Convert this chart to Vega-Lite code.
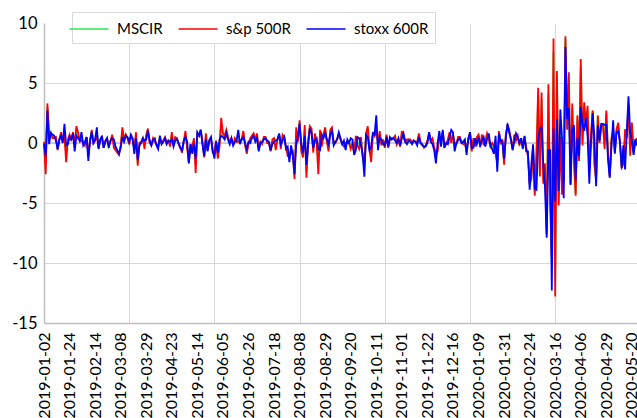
{
"$schema":"https://vega.github.io/schema/vega-lite/v6.json",
"autosize":{"type":"none"},
"padding":{"left":44,"top":23,"right":0,"bottom":95},
"width":593,"height":300,
"background":"white",
"config":{"view":{"stroke":null},"font":"Lato"},
"layer":[
{"data":{"values":[{}]},"mark":{"type":"rule","color":"#c4c4c4","strokeWidth":1.5},"encoding":{"y":{"datum":0}}},
{"data":{"values":[
{"d":"2019-01-02","M":0.0,"S":0.1,"X":-0.1},{"d":"2019-01-03","M":-2.0,"S":-2.6,"X":-1.1},{"d":"2019-01-04","M":3.0,"S":3.3,"X":2.7},{"d":"2019-01-07","M":0.4,"S":0.7,"X":-0.1},{"d":"2019-01-08","M":0.9,"S":0.9,"X":0.8},{"d":"2019-01-09","M":0.5,"S":0.4,"X":0.7},{"d":"2019-01-10","M":0.5,"S":0.4,"X":0.6},{"d":"2019-01-11","M":0.3,"S":0.5,"X":0.2},{"d":"2019-01-14","M":-0.5,"S":-0.6,"X":-0.5},{"d":"2019-01-15","M":0.3,"S":0.2,"X":0.3},{"d":"2019-01-16","M":0.8,"S":0.9,"X":0.6},{"d":"2019-01-17","M":0.1,"S":0.1,"X":0.0},{"d":"2019-01-18","M":1.0,"S":0.6,"X":1.6},{"d":"2019-01-22","M":-1.0,"S":-1.6,"X":-0.2},{"d":"2019-01-23","M":0.1,"S":0.3,"X":-0.1},{"d":"2019-01-24","M":0.6,"S":0.7,"X":0.5},{"d":"2019-01-25","M":0.3,"S":0.2,"X":0.3},{"d":"2019-01-28","M":0.8,"S":0.9,"X":0.8},{"d":"2019-01-29","M":-0.4,"S":-0.2,"X":-0.7},{"d":"2019-01-30","M":1.0,"S":1.4,"X":0.6},{"d":"2019-01-31","M":0.7,"S":0.9,"X":0.4},
{"d":"2019-02-01","M":0.2,"S":0.1,"X":0.2},{"d":"2019-02-04","M":0.5,"S":0.2,"X":0.9},{"d":"2019-02-05","M":0.0,"S":0.1,"X":-0.2},{"d":"2019-02-06","M":-0.1,"S":-0.2,"X":0.1},{"d":"2019-02-07","M":0.5,"S":0.5,"X":0.5},{"d":"2019-02-08","M":-1.1,"S":-0.9,"X":-1.5},{"d":"2019-02-11","M":0.1,"S":0.1,"X":0.2},{"d":"2019-02-12","M":1.0,"S":1.1,"X":0.9},{"d":"2019-02-13","M":0.0,"S":0.0,"X":0.0},{"d":"2019-02-14","M":0.2,"S":0.2,"X":0.3},{"d":"2019-02-15","M":0.9,"S":0.6,"X":1.3},{"d":"2019-02-19","M":-0.4,"S":-0.4,"X":-0.5},{"d":"2019-02-20","M":0.3,"S":0.3,"X":0.2},{"d":"2019-02-21","M":0.5,"S":0.5,"X":0.6},{"d":"2019-02-22","M":-0.4,"S":-0.4,"X":-0.4},{"d":"2019-02-25","M":0.2,"S":0.2,"X":0.1},{"d":"2019-02-26","M":0.4,"S":0.4,"X":0.4},{"d":"2019-02-27","M":-0.3,"S":-0.2,"X":-0.4},{"d":"2019-02-28","M":0.1,"S":0.1,"X":0.2},
{"d":"2019-03-01","M":0.6,"S":0.7,"X":0.4},{"d":"2019-03-04","M":-0.1,"S":-0.4,"X":0.3},{"d":"2019-03-05","M":-0.5,"S":-0.6,"X":-0.3},{"d":"2019-03-06","M":-0.7,"S":-0.8,"X":-0.6},{"d":"2019-03-07","M":-0.9,"S":-1.0,"X":-0.9},{"d":"2019-03-08","M":-0.3,"S":-0.2,"X":-0.4},{"d":"2019-03-11","M":1.0,"S":1.3,"X":0.5},{"d":"2019-03-12","M":0.2,"S":0.3,"X":0.1},{"d":"2019-03-13","M":0.7,"S":0.7,"X":0.6},{"d":"2019-03-14","M":0.4,"S":0.4,"X":0.5},{"d":"2019-03-15","M":0.0,"S":-0.1,"X":0.1},{"d":"2019-03-18","M":0.6,"S":0.6,"X":0.7},{"d":"2019-03-19","M":0.3,"S":0.3,"X":0.4},{"d":"2019-03-20","M":-0.7,"S":-0.5,"X":-0.9},{"d":"2019-03-21","M":0.7,"S":0.9,"X":0.4},{"d":"2019-03-22","M":-1.7,"S":-1.9,"X":-1.4},{"d":"2019-03-25","M":-0.1,"S":0.0,"X":-0.2},{"d":"2019-03-26","M":0.0,"S":0.1,"X":0.0},{"d":"2019-03-27","M":0.4,"S":0.4,"X":0.4},{"d":"2019-03-28","M":-0.2,"S":-0.5,"X":0.2},{"d":"2019-03-29","M":0.5,"S":0.7,"X":0.3},
{"d":"2019-04-01","M":1.1,"S":1.2,"X":1.0},{"d":"2019-04-02","M":0.1,"S":0.0,"X":0.2},{"d":"2019-04-03","M":-0.2,"S":-0.2,"X":-0.2},{"d":"2019-04-04","M":0.3,"S":0.4,"X":0.3},{"d":"2019-04-05","M":0.2,"S":0.1,"X":0.4},{"d":"2019-04-08","M":-0.1,"S":-0.1,"X":-0.2},{"d":"2019-04-09","M":-0.4,"S":-0.3,"X":-0.5},{"d":"2019-04-10","M":0.5,"S":0.4,"X":0.6},{"d":"2019-04-11","M":0.0,"S":0.0,"X":-0.1},{"d":"2019-04-12","M":0.1,"S":0.2,"X":0.1},{"d":"2019-04-15","M":0.4,"S":0.5,"X":0.4},{"d":"2019-04-16","M":0.0,"S":0.1,"X":-0.1},{"d":"2019-04-17","M":0.2,"S":0.2,"X":0.2},{"d":"2019-04-18","M":-0.1,"S":-0.3,"X":0.1},{"d":"2019-04-23","M":0.6,"S":0.9,"X":0.3},{"d":"2019-04-24","M":-0.2,"S":-0.2,"X":-0.3},{"d":"2019-04-25","M":0.4,"S":0.5,"X":0.2},{"d":"2019-04-26","M":0.4,"S":0.4,"X":0.3},{"d":"2019-04-29","M":0.0,"S":-0.1,"X":0.0},{"d":"2019-04-30","M":-0.4,"S":-0.4,"X":-0.4},
{"d":"2019-05-01","M":-0.7,"S":-0.8,"X":-0.6},{"d":"2019-05-02","M":0.1,"S":0.1,"X":0.2},{"d":"2019-05-03","M":0.8,"S":1.0,"X":0.5},{"d":"2019-05-06","M":-0.2,"S":-0.4,"X":0.1},{"d":"2019-05-07","M":-1.6,"S":-1.65,"X":-1.7},{"d":"2019-05-08","M":-0.1,"S":-0.2,"X":-0.1},{"d":"2019-05-09","M":-0.5,"S":-0.3,"X":-0.9},{"d":"2019-05-10","M":0.2,"S":0.4,"X":0.0},{"d":"2019-05-13","M":-1.9,"S":-2.5,"X":-1.3},{"d":"2019-05-14","M":0.8,"S":0.8,"X":0.9},{"d":"2019-05-15","M":0.6,"S":0.6,"X":0.6},{"d":"2019-05-16","M":1.1,"S":1.1,"X":1.1},{"d":"2019-05-17","M":0.0,"S":0.1,"X":-0.1},{"d":"2019-05-20","M":-1.1,"S":-1.2,"X":-1.1},{"d":"2019-05-21","M":0.6,"S":0.8,"X":0.3},{"d":"2019-05-22","M":-0.6,"S":-0.6,"X":-0.7},{"d":"2019-05-23","M":0.2,"S":0.2,"X":0.2},{"d":"2019-05-24","M":0.4,"S":0.4,"X":0.5},{"d":"2019-05-28","M":-0.7,"S":-0.8,"X":-0.6},{"d":"2019-05-29","M":-0.9,"S":-0.7,"X":-1.3},{"d":"2019-05-30","M":0.2,"S":0.2,"X":0.1},{"d":"2019-05-31","M":-1.1,"S":-1.3,"X":-0.8},
{"d":"2019-06-03","M":0.0,"S":-0.3,"X":0.3},{"d":"2019-06-04","M":1.5,"S":2.1,"X":0.6},{"d":"2019-06-05","M":0.7,"S":0.8,"X":0.5},{"d":"2019-06-06","M":0.5,"S":0.6,"X":0.3},{"d":"2019-06-07","M":1.0,"S":1.1,"X":0.8},{"d":"2019-06-10","M":0.4,"S":0.5,"X":0.3},{"d":"2019-06-11","M":0.0,"S":0.0,"X":-0.1},{"d":"2019-06-12","M":0.4,"S":0.4,"X":0.4},{"d":"2019-06-13","M":-0.2,"S":-0.2,"X":-0.2},{"d":"2019-06-14","M":0.3,"S":0.4,"X":0.1},{"d":"2019-06-17","M":0.1,"S":0.1,"X":0.2},{"d":"2019-06-18","M":0.5,"S":0.1,"X":1.1},{"d":"2019-06-19","M":0.1,"S":0.2,"X":-0.1},{"d":"2019-06-20","M":0.3,"S":0.3,"X":0.3},{"d":"2019-06-21","M":0.8,"S":1.0,"X":0.5},{"d":"2019-06-24","M":-0.1,"S":-0.2,"X":0.0},{"d":"2019-06-25","M":-0.7,"S":-0.9,"X":-0.5},{"d":"2019-06-26","M":0.0,"S":-0.1,"X":0.1},{"d":"2019-06-27","M":0.2,"S":0.4,"X":0.0},{"d":"2019-06-28","M":0.5,"S":0.6,"X":0.4},
{"d":"2019-07-01","M":0.7,"S":0.8,"X":0.6},{"d":"2019-07-02","M":0.2,"S":0.3,"X":0.1},{"d":"2019-07-03","M":0.6,"S":0.8,"X":0.4},{"d":"2019-07-05","M":-0.6,"S":-0.5,"X":-0.7},{"d":"2019-07-08","M":0.1,"S":0.1,"X":0.0},{"d":"2019-07-09","M":0.0,"S":-0.1,"X":0.1},{"d":"2019-07-10","M":0.4,"S":0.5,"X":0.3},{"d":"2019-07-11","M":0.4,"S":0.5,"X":0.4},{"d":"2019-07-12","M":0.1,"S":0.0,"X":0.2},{"d":"2019-07-15","M":0.0,"S":0.0,"X":0.1},{"d":"2019-07-16","M":-0.6,"S":-0.7,"X":-0.6},{"d":"2019-07-17","M":0.1,"S":0.3,"X":-0.1},{"d":"2019-07-18","M":0.3,"S":0.4,"X":0.1},{"d":"2019-07-19","M":-0.3,"S":-0.6,"X":0.2},{"d":"2019-07-22","M":0.3,"S":0.3,"X":0.3},{"d":"2019-07-23","M":0.7,"S":0.7,"X":0.8},{"d":"2019-07-24","M":-0.3,"S":-0.5,"X":-0.1},{"d":"2019-07-25","M":0.5,"S":0.7,"X":0.2},{"d":"2019-07-26","M":0.5,"S":0.5,"X":0.5},{"d":"2019-07-29","M":-0.4,"S":-0.3,"X":-0.5},{"d":"2019-07-30","M":-0.8,"S":-1.1,"X":-0.3},{"d":"2019-07-31","M":-1.3,"S":-1.1,"X":-1.6},
{"d":"2019-08-01","M":-0.6,"S":-0.9,"X":-0.2},{"d":"2019-08-02","M":-0.8,"S":-0.7,"X":-1.0},{"d":"2019-08-05","M":-2.7,"S":-3.0,"X":-2.6},{"d":"2019-08-06","M":0.7,"S":1.3,"X":-0.2},{"d":"2019-08-07","M":0.3,"S":0.1,"X":0.6},{"d":"2019-08-08","M":1.7,"S":1.9,"X":1.6},{"d":"2019-08-09","M":-0.5,"S":-0.7,"X":-0.1},{"d":"2019-08-12","M":-1.0,"S":-1.2,"X":-0.8},{"d":"2019-08-13","M":1.1,"S":1.5,"X":0.6},{"d":"2019-08-14","M":-2.4,"S":-2.9,"X":-1.8},{"d":"2019-08-15","M":0.1,"S":0.2,"X":-0.2},{"d":"2019-08-16","M":1.3,"S":1.4,"X":1.2},{"d":"2019-08-19","M":1.0,"S":1.2,"X":0.8},{"d":"2019-08-20","M":-0.6,"S":-0.8,"X":-0.4},{"d":"2019-08-21","M":0.5,"S":0.8,"X":0.2},{"d":"2019-08-22","M":0.2,"S":0.0,"X":0.4},{"d":"2019-08-23","M":-1.7,"S":-2.6,"X":-0.5},{"d":"2019-08-26","M":0.4,"S":1.1,"X":-0.6},{"d":"2019-08-27","M":0.1,"S":-0.3,"X":0.7},{"d":"2019-08-28","M":0.6,"S":0.7,"X":0.4},{"d":"2019-08-29","M":1.1,"S":1.3,"X":0.8},{"d":"2019-08-30","M":0.2,"S":0.1,"X":0.3},
{"d":"2019-09-03","M":-0.4,"S":-0.7,"X":-0.1},{"d":"2019-09-04","M":0.9,"S":1.1,"X":0.7},{"d":"2019-09-05","M":1.1,"S":1.3,"X":1.0},{"d":"2019-09-06","M":0.0,"S":0.1,"X":-0.2},{"d":"2019-09-09","M":0.0,"S":0.0,"X":0.1},{"d":"2019-09-10","M":0.3,"S":0.3,"X":0.3},{"d":"2019-09-11","M":0.8,"S":0.7,"X":0.9},{"d":"2019-09-12","M":0.3,"S":0.3,"X":0.4},{"d":"2019-09-13","M":-0.1,"S":-0.1,"X":-0.1},{"d":"2019-09-16","M":-0.1,"S":-0.3,"X":0.2},{"d":"2019-09-17","M":-0.2,"S":0.0,"X":-0.6},{"d":"2019-09-18","M":0.1,"S":0.0,"X":0.3},{"d":"2019-09-19","M":0.0,"S":0.0,"X":0.0},{"d":"2019-09-20","M":-0.1,"S":-0.5,"X":0.4},{"d":"2019-09-23","M":0.1,"S":0.0,"X":0.3},{"d":"2019-09-24","M":-0.9,"S":-0.8,"X":-1.0},{"d":"2019-09-25","M":0.1,"S":0.6,"X":-0.6},{"d":"2019-09-26","M":0.1,"S":-0.2,"X":0.5},{"d":"2019-09-27","M":-0.1,"S":-0.5,"X":0.4},{"d":"2019-09-30","M":0.2,"S":0.5,"X":-0.2},
{"d":"2019-10-01","M":-1.1,"S":-1.2,"X":-0.9},{"d":"2019-10-02","M":-2.2,"S":-1.8,"X":-2.8},{"d":"2019-10-03","M":0.7,"S":0.8,"X":0.7},{"d":"2019-10-04","M":1.0,"S":1.4,"X":0.5},{"d":"2019-10-07","M":-0.5,"S":-0.5,"X":-0.6},{"d":"2019-10-08","M":-1.1,"S":-1.6,"X":-0.3},{"d":"2019-10-09","M":0.8,"S":0.9,"X":0.8},{"d":"2019-10-10","M":0.6,"S":0.6,"X":0.7},{"d":"2019-10-11","M":1.5,"S":1.1,"X":2.3},{"d":"2019-10-14","M":-0.3,"S":-0.1,"X":-0.6},{"d":"2019-10-15","M":0.8,"S":1.0,"X":0.5},{"d":"2019-10-16","M":0.0,"S":-0.2,"X":0.3},{"d":"2019-10-17","M":0.1,"S":0.3,"X":-0.1},{"d":"2019-10-18","M":-0.3,"S":-0.4,"X":-0.2},{"d":"2019-10-21","M":0.6,"S":0.7,"X":0.5},{"d":"2019-10-22","M":-0.3,"S":-0.4,"X":-0.3},{"d":"2019-10-23","M":0.4,"S":0.3,"X":0.5},{"d":"2019-10-24","M":0.3,"S":0.4,"X":0.3},{"d":"2019-10-25","M":0.4,"S":0.4,"X":0.4},{"d":"2019-10-28","M":0.4,"S":0.6,"X":0.2},{"d":"2019-10-29","M":-0.1,"S":-0.1,"X":0.0},{"d":"2019-10-30","M":0.3,"S":0.3,"X":0.4},{"d":"2019-10-31","M":-0.3,"S":-0.3,"X":-0.2},
{"d":"2019-11-01","M":0.7,"S":1.0,"X":0.4},{"d":"2019-11-04","M":0.6,"S":0.4,"X":0.8},{"d":"2019-11-05","M":0.1,"S":0.1,"X":0.1},{"d":"2019-11-06","M":0.1,"S":0.3,"X":-0.1},{"d":"2019-11-07","M":0.3,"S":0.3,"X":0.2},{"d":"2019-11-08","M":0.2,"S":0.3,"X":0.1},{"d":"2019-11-11","M":0.0,"S":0.0,"X":-0.1},{"d":"2019-11-12","M":0.2,"S":0.2,"X":0.2},{"d":"2019-11-13","M":0.1,"S":0.1,"X":0.1},{"d":"2019-11-14","M":0.0,"S":0.1,"X":-0.2},{"d":"2019-11-15","M":0.6,"S":0.8,"X":0.5},{"d":"2019-11-18","M":0.0,"S":0.0,"X":0.0},{"d":"2019-11-19","M":-0.1,"S":-0.1,"X":-0.2},{"d":"2019-11-20","M":-0.3,"S":-0.4,"X":-0.3},{"d":"2019-11-21","M":-0.2,"S":-0.2,"X":-0.3},{"d":"2019-11-22","M":0.1,"S":0.2,"X":0.0},{"d":"2019-11-25","M":0.8,"S":0.8,"X":0.9},{"d":"2019-11-26","M":0.2,"S":0.2,"X":0.1},{"d":"2019-11-27","M":0.2,"S":0.4,"X":-0.1},{"d":"2019-11-29","M":-0.5,"S":-0.4,"X":-0.6},
{"d":"2019-12-02","M":-1.2,"S":-0.9,"X":-1.7},{"d":"2019-12-03","M":-0.4,"S":-0.7,"X":0.0},{"d":"2019-12-04","M":0.8,"S":0.6,"X":1.0},{"d":"2019-12-05","M":0.0,"S":0.2,"X":-0.3},{"d":"2019-12-06","M":1.0,"S":0.9,"X":1.1},{"d":"2019-12-09","M":-0.3,"S":-0.3,"X":-0.4},{"d":"2019-12-10","M":-0.1,"S":-0.1,"X":0.0},{"d":"2019-12-11","M":0.1,"S":0.3,"X":-0.1},{"d":"2019-12-12","M":0.7,"S":0.9,"X":0.5},{"d":"2019-12-13","M":0.4,"S":0.0,"X":1.1},{"d":"2019-12-16","M":0.8,"S":0.7,"X":0.9},{"d":"2019-12-17","M":-0.3,"S":0.0,"X":-0.7},{"d":"2019-12-18","M":0.0,"S":-0.1,"X":0.0},{"d":"2019-12-19","M":0.4,"S":0.5,"X":0.2},{"d":"2019-12-20","M":0.4,"S":0.5,"X":0.4},{"d":"2019-12-23","M":0.1,"S":0.1,"X":0.0},{"d":"2019-12-24","M":0.0,"S":-0.1,"X":0.1},{"d":"2019-12-27","M":0.1,"S":0.0,"X":0.3},{"d":"2019-12-30","M":-0.8,"S":-0.6,"X":-1.0},{"d":"2019-12-31","M":0.3,"S":0.3,"X":0.4},
{"d":"2020-01-02","M":0.8,"S":0.8,"X":0.9},{"d":"2020-01-03","M":-0.6,"S":-0.7,"X":-0.4},{"d":"2020-01-06","M":0.1,"S":0.4,"X":-0.4},{"d":"2020-01-07","M":0.0,"S":-0.3,"X":0.4},{"d":"2020-01-08","M":0.3,"S":0.5,"X":-0.1},{"d":"2020-01-09","M":0.6,"S":0.7,"X":0.5},{"d":"2020-01-10","M":-0.3,"S":-0.3,"X":-0.2},{"d":"2020-01-13","M":0.5,"S":0.7,"X":0.2},{"d":"2020-01-14","M":0.1,"S":-0.2,"X":0.5},{"d":"2020-01-15","M":0.0,"S":0.2,"X":-0.3},{"d":"2020-01-16","M":0.6,"S":0.8,"X":0.3},{"d":"2020-01-17","M":0.5,"S":0.3,"X":0.8},{"d":"2020-01-21","M":-0.3,"S":-0.3,"X":-0.2},{"d":"2020-01-22","M":-0.2,"S":0.0,"X":-0.5},{"d":"2020-01-23","M":-0.5,"S":-0.2,"X":-0.9},{"d":"2020-01-24","M":-0.3,"S":-0.9,"X":0.6},{"d":"2020-01-27","M":-1.9,"S":-1.6,"X":-2.4},{"d":"2020-01-28","M":0.9,"S":1.0,"X":0.8},{"d":"2020-01-29","M":0.0,"S":-0.1,"X":0.2},{"d":"2020-01-30","M":0.2,"S":0.3,"X":0.1},{"d":"2020-01-31","M":-1.6,"S":-1.8,"X":-1.3},
{"d":"2020-02-03","M":0.6,"S":0.7,"X":0.4},{"d":"2020-02-04","M":1.5,"S":1.5,"X":1.6},{"d":"2020-02-05","M":1.0,"S":1.1,"X":0.9},{"d":"2020-02-06","M":0.3,"S":0.3,"X":0.3},{"d":"2020-02-07","M":-0.5,"S":-0.5,"X":-0.6},{"d":"2020-02-10","M":0.5,"S":0.7,"X":0.1},{"d":"2020-02-11","M":0.4,"S":0.2,"X":0.8},{"d":"2020-02-12","M":0.5,"S":0.6,"X":0.5},{"d":"2020-02-13","M":-0.1,"S":-0.2,"X":0.0},{"d":"2020-02-14","M":0.4,"S":0.4,"X":0.4},{"d":"2020-02-18","M":-0.4,"S":-0.3,"X":-0.5},{"d":"2020-02-19","M":0.5,"S":0.5,"X":0.6},{"d":"2020-02-20","M":-0.5,"S":-0.4,"X":-0.7},{"d":"2020-02-21","M":-0.9,"S":-1.1,"X":-0.7},{"d":"2020-02-24","M":-3.5,"S":-3.4,"X":-3.9},{"d":"2020-02-25","M":-2.8,"S":-3.0,"X":-1.8},{"d":"2020-02-26","M":-0.3,"S":-0.4,"X":-0.1},{"d":"2020-02-27","M":-4.2,"S":-4.4,"X":-3.8},{"d":"2020-02-28","M":-1.3,"S":-0.8,"X":-3.9},
{"d":"2020-03-02","M":3.9,"S":4.6,"X":0.2},{"d":"2020-03-03","M":-2.2,"S":-2.8,"X":1.2},{"d":"2020-03-04","M":3.7,"S":4.2,"X":1.3},{"d":"2020-03-05","M":-3.1,"S":-3.4,"X":-1.8},{"d":"2020-03-06","M":-2.0,"S":-1.7,"X":-3.7},{"d":"2020-03-09","M":-7.6,"S":-7.6,"X":-7.9},{"d":"2020-03-10","M":4.1,"S":4.9,"X":-0.6},{"d":"2020-03-11","M":-4.2,"S":-4.9,"X":-0.6},{"d":"2020-03-12","M":-9.9,"S":-9.5,"X":-12.3},{"d":"2020-03-13","M":7.6,"S":8.7,"X":1.2},{"d":"2020-03-16","M":-11.5,"S":-12.8,"X":-4.9},{"d":"2020-03-17","M":5.4,"S":6.0,"X":2.0},{"d":"2020-03-18","M":-5.0,"S":-5.2,"X":-4.0},{"d":"2020-03-19","M":0.9,"S":0.5,"X":2.8},{"d":"2020-03-20","M":-3.6,"S":-4.3,"X":0.4},{"d":"2020-03-23","M":-3.2,"S":-2.9,"X":-4.6},{"d":"2020-03-24","M":8.7,"S":8.9,"X":8.0},{"d":"2020-03-25","M":1.2,"S":1.1,"X":2.0},{"d":"2020-03-26","M":5.4,"S":5.9,"X":2.9},{"d":"2020-03-27","M":-3.4,"S":-3.4,"X":-3.5},{"d":"2020-03-30","M":2.9,"S":3.3,"X":1.0},{"d":"2020-03-31","M":-1.1,"S":-1.6,"X":1.5},
{"d":"2020-04-01","M":-4.2,"S":-4.4,"X":-3.1},{"d":"2020-04-02","M":2.0,"S":2.3,"X":0.4},{"d":"2020-04-03","M":-1.4,"S":-1.5,"X":-1.1},{"d":"2020-04-06","M":6.4,"S":7.0,"X":3.0},{"d":"2020-04-07","M":0.1,"S":-0.2,"X":1.6},{"d":"2020-04-08","M":3.0,"S":3.4,"X":1.0},{"d":"2020-04-09","M":1.6,"S":1.5,"X":2.1},{"d":"2020-04-14","M":2.7,"S":3.1,"X":0.6},{"d":"2020-04-15","M":-2.4,"S":-2.2,"X":-3.4},{"d":"2020-04-16","M":0.5,"S":0.6,"X":0.0},{"d":"2020-04-17","M":2.7,"S":2.7,"X":2.5},{"d":"2020-04-20","M":-1.4,"S":-1.8,"X":0.5},{"d":"2020-04-21","M":-3.2,"S":-3.1,"X":-3.6},{"d":"2020-04-22","M":2.2,"S":2.3,"X":1.5},{"d":"2020-04-23","M":0.1,"S":0.0,"X":0.2},{"d":"2020-04-24","M":1.5,"S":1.4,"X":1.6},{"d":"2020-04-27","M":1.5,"S":1.5,"X":1.6},{"d":"2020-04-28","M":0.1,"S":-0.5,"X":1.5},{"d":"2020-04-29","M":2.5,"S":2.7,"X":1.5},{"d":"2020-04-30","M":-1.0,"S":-0.9,"X":-1.4},
{"d":"2020-05-01","M":-2.8,"S":-2.8,"X":-2.9},{"d":"2020-05-04","M":0.2,"S":0.4,"X":-0.3},{"d":"2020-05-05","M":1.1,"S":0.9,"X":1.9},{"d":"2020-05-06","M":-0.8,"S":-0.7,"X":-0.9},{"d":"2020-05-07","M":1.1,"S":1.15,"X":0.9},{"d":"2020-05-08","M":1.5,"S":1.7,"X":1.0},{"d":"2020-05-11","M":0.0,"S":0.0,"X":0.1},{"d":"2020-05-12","M":-2.0,"S":-2.05,"X":-2.1},{"d":"2020-05-13","M":-1.4,"S":-1.75,"X":-0.2},{"d":"2020-05-14","M":0.5,"S":1.15,"X":-2.2},{"d":"2020-05-15","M":0.5,"S":0.4,"X":0.9},{"d":"2020-05-18","M":3.3,"S":3.15,"X":3.9},{"d":"2020-05-19","M":-0.6,"S":-1.05,"X":0.9},{"d":"2020-05-20","M":1.3,"S":1.7,"X":0.2},{"d":"2020-05-21","M":-0.9,"S":-0.8,"X":-1.0},{"d":"2020-05-22","M":0.2,"S":0.2,"X":0.3},{"d":"2020-05-26","M":0.3,"S":0.4,"X":-0.2}
]},
"transform":[{"fold":["M","S","X"],"as":["k","v"]}],
"mark":{"type":"line","strokeWidth":1.8},
"encoding":{
"x":{"field":"d","type":"ordinal","scale":{"type":"point","padding":0},
"axis":{"title":null,"values":["2019-01-02","2019-01-24","2019-02-14","2019-03-08","2019-03-15","2019-03-29","2019-04-23","2019-05-14","2019-05-29","2019-06-05","2019-06-26","2019-07-18","2019-08-08","2019-08-29","2019-09-20","2019-10-11","2019-10-18","2019-11-01","2019-11-22","2019-12-16","2020-01-02","2020-01-09","2020-01-31","2020-02-24","2020-03-16","2020-04-06","2020-04-29","2020-05-20"],
"labelExpr":"indexof(['2019-03-15','2019-05-29','2019-10-18','2020-01-02'], datum.value) >= 0 ? '' : datum.value",
"labelAngle":-90,"labelPadding":9,"labelFontSize":16,"labelFont":"Lato","labelColor":"#000000","labelOverlap":false,"labelBound":false,"labelFlush":false,
"ticks":false,"domainColor":"#bfbfbf","domainWidth":1.5,"grid":true,"gridColor":"#d9d9d9",
"gridOpacity":{"condition":{"test":"indexof(['2019-03-15','2019-05-29','2019-08-08','2019-10-18','2020-01-02','2020-03-16'], datum.value) >= 0","value":1},"value":0}}},
"y":{"field":"v","type":"quantitative","scale":{"domain":[-15,10],"nice":false,"zero":false},
"axis":{"title":null,"values":[-15,-10,-5,0,5,10],"labelExpr":"'' + datum.value","ticks":false,"labelPadding":7,"labelFontSize":16.5,"labelFont":"Lato","labelColor":"#000000","domainColor":"#bfbfbf","domainWidth":1.5,"grid":true,"gridColor":"#d9d9d9",
"gridOpacity":{"condition":{"test":"datum.value == 10","value":0},"value":1}}},
"color":{"field":"k","type":"nominal","scale":{"domain":["M","S","X"],"range":["#2ee84f","#ff0000","#0000ff"]},
"legend":{"orient":"none","legendX":28,"legendY":-11,"direction":"horizontal","title":null,"symbolType":"M-1.95,0H1.95","symbolSize":400,"symbolStrokeWidth":1.6,"labelFontSize":15,"labelFont":"Lato","labelColor":"#000000","labelOffset":17,"columnPadding":12,"padding":6,"strokeColor":"#d9d9d9","fillColor":"#ffffff",
"labelExpr":"datum.value == 'M' ? 'MSCIR' : datum.value == 'S' ? 's&p 500R' : 'stoxx 600R'"}}
}}
]
}
